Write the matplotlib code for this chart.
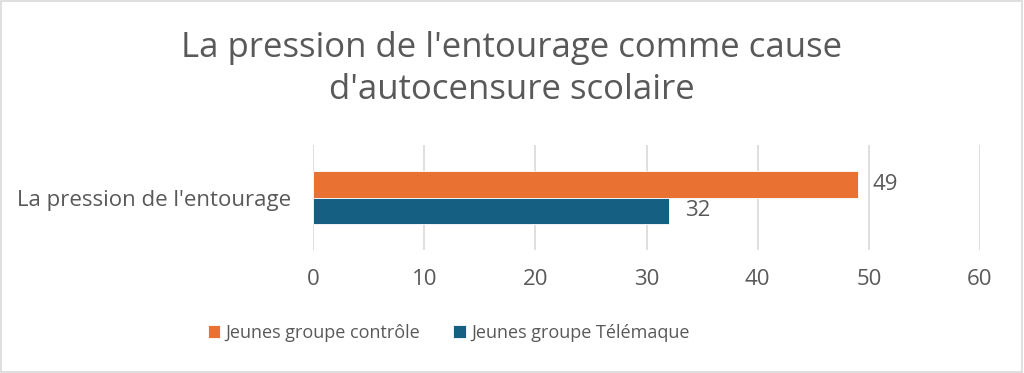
import numpy as np
from matplotlib import pyplot as plt
from matplotlib.patches import Rectangle

# data
categories = ["La pression de l'entourage"]
series_names = ['Jeunes groupe contrôle', 'Jeunes groupe Télémaque']
controle = [49]
telemaque = [32]
xticks = [0, 10, 20, 30, 40, 50, 60]

orange = '#E97132'
blue = '#156082'
grey = '#595959'

plt.rcParams['font.family'] = ['Open Sans', 'DejaVu Sans']

fig = plt.figure(figsize=(10.24, 3.73), dpi=100)
fig.patches.append(Rectangle((0.001, 0.002), 0.997, 0.995, transform=fig.transFigure,
                             fill=False, edgecolor='#D9D9D9', linewidth=1.2))
ax = fig.add_axes([0.3057, 0.330, 0.6513, 0.281])

h = 0.257
y = np.arange(len(categories))
b1 = ax.barh(y + h / 2, controle, height=h, color=orange, edgecolor='white', linewidth=0.6,
             label=series_names[0], zorder=3)
b2 = ax.barh(y - h / 2, telemaque, height=h, color=blue, edgecolor='white', linewidth=0.6,
             label=series_names[1], zorder=3)
ax.bar_label(b1, padding=11, fontsize=16, color=grey)
ax.bar_label(b2, padding=12, fontsize=16, color=grey)

ax.set_xlim(0, 60)
ax.set_ylim(-0.5, 0.5)
ax.set_xticks(xticks)
ax.set_yticks(y)
ax.set_yticklabels(categories)
ax.grid(axis='x', color='#D9D9D9', linewidth=1.2, zorder=0)
for s in ax.spines.values():
    s.set_visible(False)
ax.tick_params(axis='both', length=0, labelsize=16, colors=grey)
ax.tick_params(axis='x', pad=14)
ax.tick_params(axis='y', pad=16)

fig.text(0.5, 0.814, "La pression de l'entourage comme cause\nd'autocensure scolaire",
         ha='center', va='center', fontsize=25, color=grey, linespacing=1.3)

fig.legend(handles=[b1, b2], loc='center', bbox_to_anchor=(0.438, 0.107), ncol=2,
           frameon=False, fontsize=13, labelcolor=grey, handlelength=0.7, handleheight=0.7,
           handletextpad=0.3, columnspacing=1.8)

fig.savefig('out.png', dpi=100)
